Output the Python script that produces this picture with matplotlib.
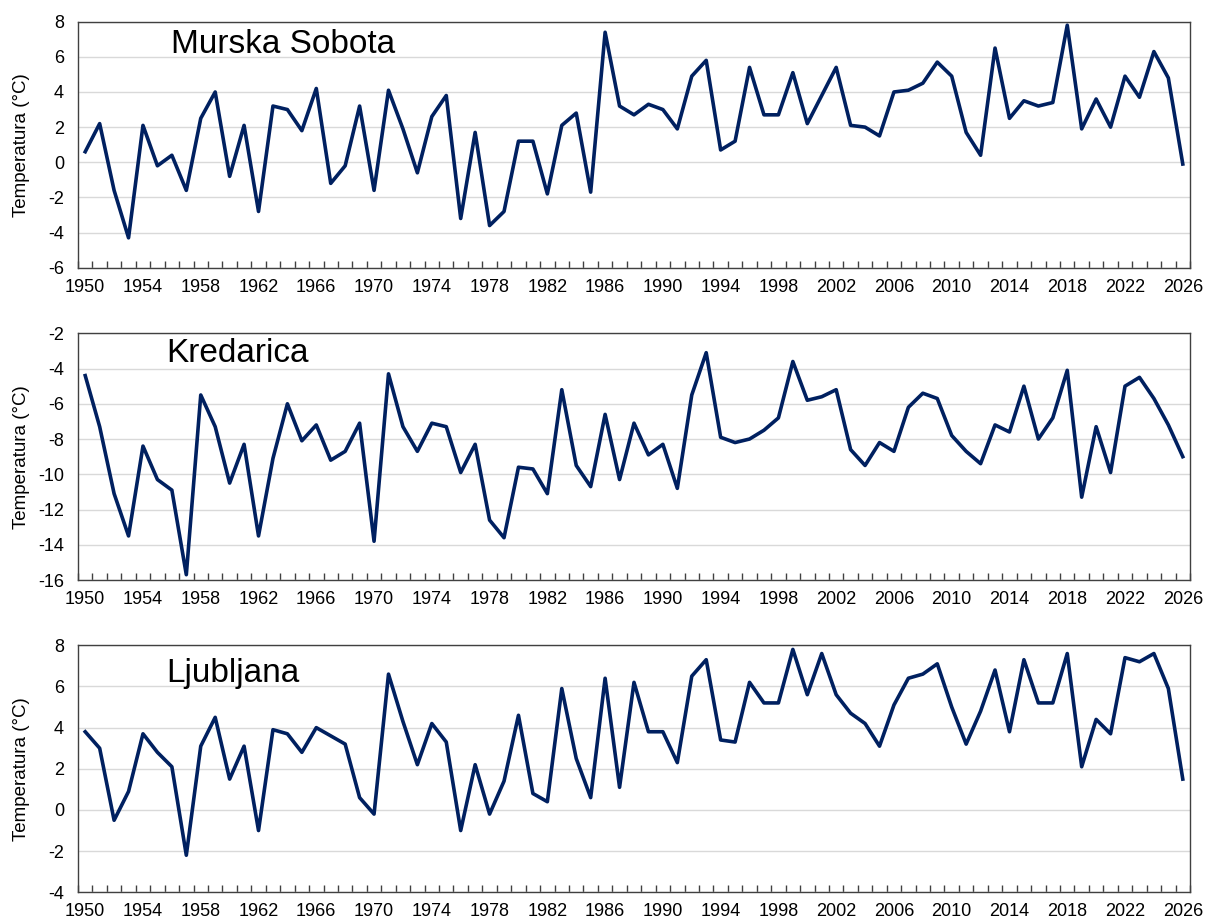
import matplotlib
matplotlib.use("Agg")
import matplotlib.pyplot as plt
from matplotlib.ticker import MultipleLocator, FixedLocator
import numpy as np

plt.rcParams['font.family'] = ['Liberation Sans', 'DejaVu Sans']
plt.rcParams['axes.unicode_minus'] = False

years = list(range(1950, 2027))

murska_sobota = [
    0.6, 2.2, -1.6, -4.3, 2.1, -0.2, 0.4, -1.6, 2.5, 4.0,
    -0.8, 2.1, -2.8, 3.2, 3.0, 1.8, 4.2, -1.2, -0.2, 3.2,
    -1.6, 4.1, 1.9, -0.6, 2.6, 3.8, -3.2, 1.7, -3.6, -2.8,
    1.2, 1.2, -1.8, 2.1, 2.8, -1.7, 7.4, 3.2, 2.7, 3.3,
    3.0, 1.9, 4.9, 5.8, 0.7, 1.2, 5.4, 2.7, 2.7, 5.1,
    2.2, 3.8, 5.4, 2.1, 2.0, 1.5, 4.0, 4.1, 4.5, 5.7,
    4.9, 1.7, 0.4, 6.5, 2.5, 3.5, 3.2, 3.4, 7.8, 1.9,
    3.6, 2.0, 4.9, 3.7, 6.3, 4.8, -0.1,
]

kredarica = [
    -4.4, -7.3, -11.1, -13.5, -8.4, -10.3, -10.9, -15.7, -5.5, -7.3,
    -10.5, -8.3, -13.5, -9.1, -6.0, -8.1, -7.2, -9.2, -8.7, -7.1,
    -13.8, -4.3, -7.3, -8.7, -7.1, -7.3, -9.9, -8.3, -12.6, -13.6,
    -9.6, -9.7, -11.1, -5.2, -9.5, -10.7, -6.6, -10.3, -7.1, -8.9,
    -8.3, -10.8, -5.5, -3.1, -7.9, -8.2, -8.0, -7.5, -6.8, -3.6,
    -5.8, -5.6, -5.2, -8.6, -9.5, -8.2, -8.7, -6.2, -5.4, -5.7,
    -7.8, -8.7, -9.4, -7.2, -7.6, -5.0, -8.0, -6.8, -4.1, -11.3,
    -7.3, -9.9, -5.0, -4.5, -5.7, -7.2, -9.0,
]

ljubljana = [
    3.8, 3.0, -0.5, 0.9, 3.7, 2.8, 2.1, -2.2, 3.1, 4.5,
    1.5, 3.1, -1.0, 3.9, 3.7, 2.8, 4.0, 3.6, 3.2, 0.6,
    -0.2, 6.6, 4.3, 2.2, 4.2, 3.3, -1.0, 2.2, -0.2, 1.4,
    4.6, 0.8, 0.4, 5.9, 2.5, 0.6, 6.4, 1.1, 6.2, 3.8,
    3.8, 2.3, 6.5, 7.3, 3.4, 3.3, 6.2, 5.2, 5.2, 7.8,
    5.6, 7.6, 5.6, 4.7, 4.2, 3.1, 5.1, 6.4, 6.6, 7.1,
    5.0, 3.2, 4.8, 6.8, 3.8, 7.3, 5.2, 5.2, 7.6, 2.1,
    4.4, 3.7, 7.4, 7.2, 7.6, 5.9, 1.5,
]

stations = ["Murska Sobota", "Kredarica", "Ljubljana"]
series = [murska_sobota, kredarica, ljubljana]
y_limits = [(-6, 8), (-16, -2), (-4, 8)]

line_color = "#002060"
fig = plt.figure(figsize=(12.07, 9.22), dpi=100)

left, width = 78 / 1207, 1112 / 1207
panel_boxes = [(21.7, 267.7), (333.3, 580.0), (645.3, 892.3)]
# station name position (axes fraction, baseline)
name_pos = [(0.084, 0.874), (0.079, 0.885), (0.079, 0.851)]

for (top_px, bot_px), name, vals, (ymin, ymax), (nx, ny) in zip(
        panel_boxes, stations, series, y_limits, name_pos):
    ax = fig.add_axes([left, 1 - bot_px / 922, width, (bot_px - top_px) / 922])
    ax.plot(years, vals, color=line_color, linewidth=2.6, zorder=3)

    ax.set_xlim(1949.5, 2026.5)
    ax.set_ylim(ymin, ymax)
    ax.yaxis.set_major_locator(MultipleLocator(2))
    ax.grid(axis="y", color="#d9d9d9", linewidth=1.0, zorder=0)

    ax.xaxis.set_major_locator(FixedLocator(list(range(1950, 2027, 4))))
    ax.xaxis.set_minor_locator(FixedLocator([y + 0.5 for y in range(1949, 2027)]))
    ax.tick_params(axis="x", which="major", length=0, pad=8, labelsize=13)
    ax.tick_params(axis="x", which="minor", direction="in", length=5, width=1, color="#404040")
    ax.tick_params(axis="y", length=0, pad=10, labelsize=13)

    for s in ax.spines.values():
        s.set_color("#404040")
        s.set_linewidth(1.0)

    ax.set_ylabel("Temperatura (°C)", fontsize=13.5)
    ax.yaxis.set_label_coords(-0.043, 0.5)
    ax.text(nx, ny, name, transform=ax.transAxes, fontsize=24, ha="left", va="baseline")

fig.savefig("out.png", dpi=100)
